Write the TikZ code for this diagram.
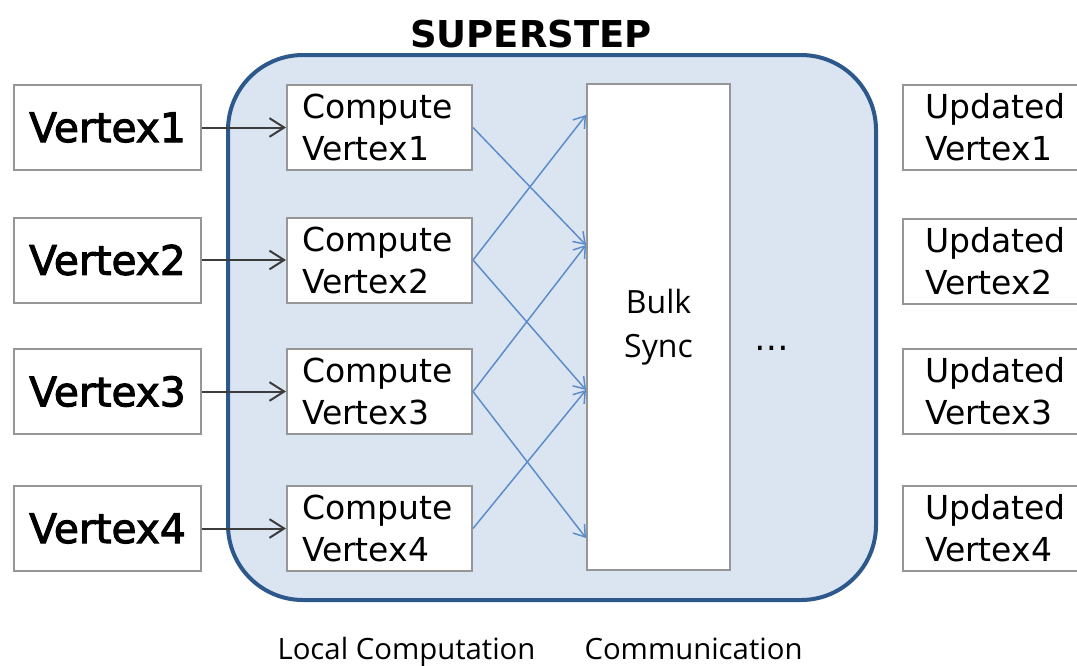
\documentclass[tikz,border=0pt]{standalone}
\usepackage{fontspec}
\setmainfont{DejaVu Sans}
\newfontfamily\opensans{Open Sans}
\newfontfamily\dejavu{DejaVu Sans}
\newfontfamily\dejavuthick[FakeBold=2.5]{DejaVu Sans}
\usetikzlibrary{arrows.meta}
\definecolor{ssfill}{RGB}{219,229,241}
\definecolor{ssborder}{RGB}{44,88,140}
\definecolor{boxgray}{RGB}{150,150,150}
\definecolor{msgblue}{RGB}{90,139,203}
\definecolor{inarrow}{RGB}{60,60,60}
\tikzset{
  vbox/.style={draw=boxgray, line width=1.5pt, fill=white, minimum width=187*0.75pt, minimum height=85*0.75pt, inner sep=0pt,
    font=\dejavuthick\fontsize{30.5}{32}\selectfont},
  cbox/.style={draw=boxgray, line width=1.5pt, fill=white, minimum height=85*0.75pt, text width=155*0.75pt, inner xsep=15*0.75pt, inner ysep=0pt,
    align=left, font=\dejavu\fontsize{24.75}{31.5}\selectfont},
  ubox/.style={cbox, text width=160*0.75pt, inner xsep=22*0.75pt},
  bulkbox/.style={draw=boxgray, line width=1.5pt, fill=white, minimum width=143*0.75pt, minimum height=486*0.75pt, inner sep=0pt,
    align=center, font=\opensans\fontsize{24}{33}\selectfont},
  inarr/.style={draw=inarrow, line width=1.5pt, -{Straight Barb[length=11pt,width=14pt]}},
  msgarr/.style={draw=msgblue, line width=1.1pt, -{Straight Barb[length=8pt,width=11pt]}},
  caption/.style={font=\opensans\fontsize{22}{26}\selectfont, anchor=base, inner sep=0pt},
}
\begin{document}
\begin{tikzpicture}[x=0.75pt,y=-0.75pt]
\clip (0,0) rectangle (1077,665);
\fill[white] (0,0) rectangle (1077,665);

% superstep container
\draw[ssborder, line width=3pt, fill=ssfill, rounded corners=75*0.75pt] (228,55) rectangle (876,600);
\node[anchor=base, inner sep=0pt, font=\dejavu\bfseries\fontsize{27.75}{30}\selectfont] (title) at (531,47) {SUPERSTEP};

% input vertices
\node[vbox] (v1) at (107.5,127.5) {Vertex1};
\node[vbox] (v2) at (107.5,260) {Vertex2};
\node[vbox] (v3) at (107.5,391.5) {Vertex3};
\node[vbox] (v4) at (107.5,528.5) {Vertex4};

% compute boxes
\node[cbox] (c1) at (379.5,127.5) {Compute\\Vertex1};
\node[cbox] (c2) at (379.5,260) {Compute\\Vertex2};
\node[cbox] (c3) at (379.5,391.5) {Compute\\Vertex3};
\node[cbox] (c4) at (379.5,528.5) {Compute\\Vertex4};

% bulk sync
\node[bulkbox] (bulk) at (658.5,327) {Bulk\\Sync};
\coordinate (b1) at (bulk.west |- 0,115);
\coordinate (b2) at (bulk.west |- 0,245);
\coordinate (b3) at (bulk.west |- 0,390);
\coordinate (b4) at (bulk.west |- 0,538);

\node[font=\dejavu\fontsize{26}{26}\selectfont, inner sep=0pt, anchor=base] (dots) at (772,350) {…};

% updated vertices
\node[ubox] (u1) at (1005,127.5) {Updated\\Vertex1};
\node[ubox] (u2) at (1005,261.5) {Updated\\Vertex2};
\node[ubox] (u3) at (1005,391.5) {Updated\\Vertex3};
\node[ubox] (u4) at (1005,528) {Updated\\Vertex4};

% input arrows
\draw[inarr] (v1) -- (c1);
\draw[inarr] (v2) -- (c2);
\draw[inarr] (v3) -- (c3);
\draw[inarr] (v4) -- (c4);

% message arrows
\draw[msgarr] (c1.east) -- (b2);
\draw[msgarr] (c2.east) -- (b1);
\draw[msgarr] (c2.east) -- (b3);
\draw[msgarr] (c3.east) -- (b2);
\draw[msgarr] (c3.east) -- (b4);
\draw[msgarr] (c4.east) -- (b3);

% captions
\node[caption] (lc) at (406.5,659) {Local Computation};
\node[caption] (cm) at (693.5,659) {Communication};
\end{tikzpicture}
\end{document}
